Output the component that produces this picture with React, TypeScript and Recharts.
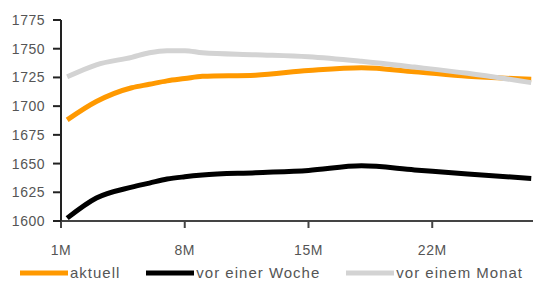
import { LineChart, Line, XAxis, YAxis, Legend } from 'recharts';

// months to maturity and the three curves
const months = [1.35, 3, 5, 6, 7, 8, 9, 12, 15, 18, 21, 24, 27.6];
const aktuell = [1688, 1704, 1716, 1719, 1722, 1724, 1726, 1727, 1731, 1733.5, 1730, 1726, 1723.5];
const vorWoche = [1602.5, 1620, 1629.5, 1633, 1636.5, 1638.5, 1640, 1642, 1644, 1648, 1644.5, 1641, 1637];
const vorMonat = [1725.5, 1736, 1742.5, 1746.5, 1748.3, 1748.3, 1746.5, 1744.8, 1743, 1739, 1734, 1728.6, 1720.5];

const yTicks = [1600, 1625, 1650, 1675, 1700, 1725, 1750, 1775];
const xTicks = [1, 8, 15, 22];

const series = [
  { key: 'aktuell', name: 'aktuell', color: '#ff9900' },
  { key: 'vorWoche', name: 'vor einer Woche', color: '#000000' },
  { key: 'vorMonat', name: 'vor einem Monat', color: '#d3d3d3' },
];

const data = months.map((m, i) => ({
  month: m,
  aktuell: aktuell[i],
  vorWoche: vorWoche[i],
  vorMonat: vorMonat[i],
}));

const font = '"Liberation Sans", Arial, sans-serif';

const LegendContent = () => (
  <div style={{ display: 'flex', alignItems: 'center', fontFamily: font, fontSize: 15, letterSpacing: 1, color: '#555' }}>
    {series.map(s => (
      <div key={s.key} style={{ display: 'flex', alignItems: 'center', marginRight: 26 }}>
        <svg width={50} height={8}>
          <line x1={0} y1={4} x2={48} y2={4} stroke={s.color} strokeWidth={5} />
        </svg>
        <span>{s.name}</span>
      </div>
    ))}
  </div>
);

export default function App() {
  return (
    <div style={{ position: 'absolute', left: 0, top: 0 }}>
      <LineChart width={537} height={287} data={data} margin={{ top: 20, right: 4, left: 0, bottom: 26 }}>
        <XAxis
          dataKey="month"
          type="number"
          domain={[1, 27.7]}
          ticks={xTicks}
          tickFormatter={(v) => `${v}M`}
          height={40}
          tickSize={7}
          tickMargin={17}
          stroke="#444"
          strokeWidth={2}
          tick={{ fill: '#555', fontSize: 14, fontFamily: font, letterSpacing: 0.5 }}
        />
        <YAxis
          type="number"
          domain={[1600, 1775]}
          ticks={yTicks}
          width={61}
          tickSize={8}
          tickMargin={8}
          stroke="#222"
          strokeWidth={2}
          tick={{ fill: '#555', fontSize: 14, fontFamily: font, letterSpacing: 0.5 }}
        />
        <Legend
          layout="horizontal"
          verticalAlign="middle"
          align="center"
          content={<LegendContent />}
          wrapperStyle={{ top: 264, left: 20, width: 530 }}
        />
        {series.map(s => (
          <Line
            key={s.key}
            type="monotone"
            dataKey={s.key}
            name={s.name}
            stroke={s.color}
            strokeWidth={5}
            dot={false}
            isAnimationActive={false}
          />
        ))}
      </LineChart>
    </div>
  );
}
